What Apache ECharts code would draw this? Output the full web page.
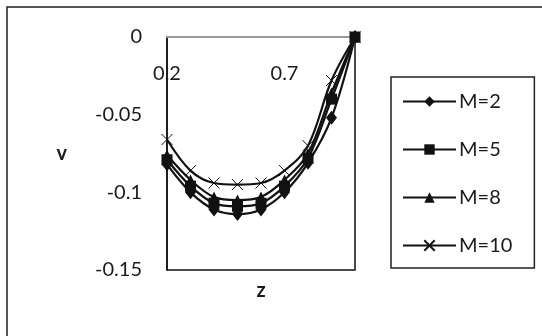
<!DOCTYPE html>
<html>
<head>
<meta charset="utf-8">
<script src="https://cdn.jsdelivr.net/npm/echarts@6/dist/echarts.min.js"></script>
<style>
  html, body { margin: 0; padding: 0; background: #fff; }
  #chart { width: 542px; height: 336px; }
</style>
</head>
<body>
<div id="chart"></div>
<script>
// Axial positions along the channel
const zValues = [0.2, 0.3, 0.4, 0.5, 0.6, 0.7, 0.8, 0.9, 1.0];

// Velocity profiles v(z) for each M
const vM2  = [-0.082, -0.100, -0.111, -0.114, -0.111, -0.100, -0.081, -0.052, 0];
const vM5  = [-0.079, -0.096, -0.107, -0.109, -0.107, -0.096, -0.078, -0.040, 0];
const vM8  = [-0.076, -0.092, -0.103, -0.105, -0.103, -0.092, -0.075, -0.036, 0];
const vM10 = [-0.066, -0.086, -0.094, -0.095, -0.094, -0.086, -0.070, -0.028, 0];

const seriesNames = ['M=2', 'M=5', 'M=8', 'M=10'];
const xTickLabels = [0.2, 0.7];
const yTickLabels = [0, -0.05, -0.1, -0.15];

const FONT = 'Lato, "Open Sans", sans-serif';
const crossPath = 'path://M0,0L10,10M10,0L0,10';

function pairs(vals) {
  return zValues.map((z, i) => [z, vals[i]]);
}

function lineSeries(name, vals, symbol, size) {
  return {
    name: name,
    type: 'line',
    data: pairs(vals),
    smooth: 0.35,
    symbol: symbol,
    symbolSize: size,
    showAllSymbol: true,
    lineStyle: { color: '#111', width: 2.2 },
    itemStyle: { color: '#111', borderColor: '#111', borderWidth: symbol === crossPath ? 1 : 0 },
    emphasis: { disabled: true },
    animation: false
  };
}

const chart = echarts.init(document.getElementById('chart'), null, { renderer: 'canvas' });

chart.setOption({
  backgroundColor: '#fff',
  animation: false,
  textStyle: { fontFamily: FONT },
  graphic: [{
    type: 'rect',
    shape: { x: 7, y: 7, width: 600, height: 400 },
    style: { fill: 'none', stroke: '#222', lineWidth: 1.5 },
    silent: true,
    z: -10
  }],
  grid: {
    left: 167, top: 37, width: 188, height: 233,
    show: true, borderColor: '#111', borderWidth: 1.5, backgroundColor: 'transparent'
  },
  legend: {
    orient: 'vertical',
    left: 391, top: 77,
    padding: [14, 22, 12, 11],
    itemGap: 27,
    itemWidth: 53,
    itemHeight: 13,
    borderColor: '#222',
    borderWidth: 1.5,
    textStyle: { fontFamily: FONT, fontSize: 20, color: '#1a1a1a', lineHeight: 21, padding: [0, 0, 0, -2] },
    data: seriesNames
  },
  xAxis: [{
    type: 'value',
    position: 'top',
    min: 0.2, max: 1.0, interval: 0.1,
    axisLine: { show: true, onZero: false, lineStyle: { color: '#9a9a9a', width: 2 } },
    axisTick: { show: false },
    splitLine: { show: false },
    axisLabel: {
      inside: true,
      margin: 27,
      fontFamily: FONT, fontSize: 20, color: '#1a1a1a',
      formatter: function (v) {
        const hit = xTickLabels.find(t => Math.abs(t - v) < 1e-6);
        return hit === undefined ? '' : String(hit);
      }
    }
  }, {
    type: 'value',
    position: 'bottom',
    min: 0.2, max: 1.0,
    axisLine: { show: false }, axisTick: { show: false }, axisLabel: { show: false }, splitLine: { show: false },
    name: 'z', nameLocation: 'middle', nameGap: 11,
    nameTextStyle: { fontFamily: FONT, fontSize: 20, fontWeight: 'bold', color: '#1a1a1a' }
  }],
  yAxis: {
    type: 'value',
    min: -0.15, max: 0, interval: 0.05,
    axisLine: { show: true, onZero: false, lineStyle: { color: '#111', width: 1.5 } },
    axisTick: { show: false },
    splitLine: { show: false },
    axisLabel: {
      margin: 25,
      fontFamily: FONT, fontSize: 20, color: '#1a1a1a',
      formatter: function (v) {
        const hit = yTickLabels.find(t => Math.abs(t - v) < 1e-9);
        return hit === undefined ? '' : String(hit);
      }
    },
    name: 'v', nameLocation: 'middle', nameGap: 100, nameRotate: 0,
    nameTextStyle: { fontFamily: FONT, fontSize: 20, fontWeight: 'bold', color: '#1a1a1a', padding: [14, 0, 0, 0] }
  },
  series: [
    lineSeries(seriesNames[0], vM2, 'diamond', [11, 14]),
    lineSeries(seriesNames[1], vM5, 'rect', 11),
    lineSeries(seriesNames[2], vM8, 'triangle', 11),
    lineSeries(seriesNames[3], vM10, crossPath, 11)
  ]
});
</script>
</body>
</html>
